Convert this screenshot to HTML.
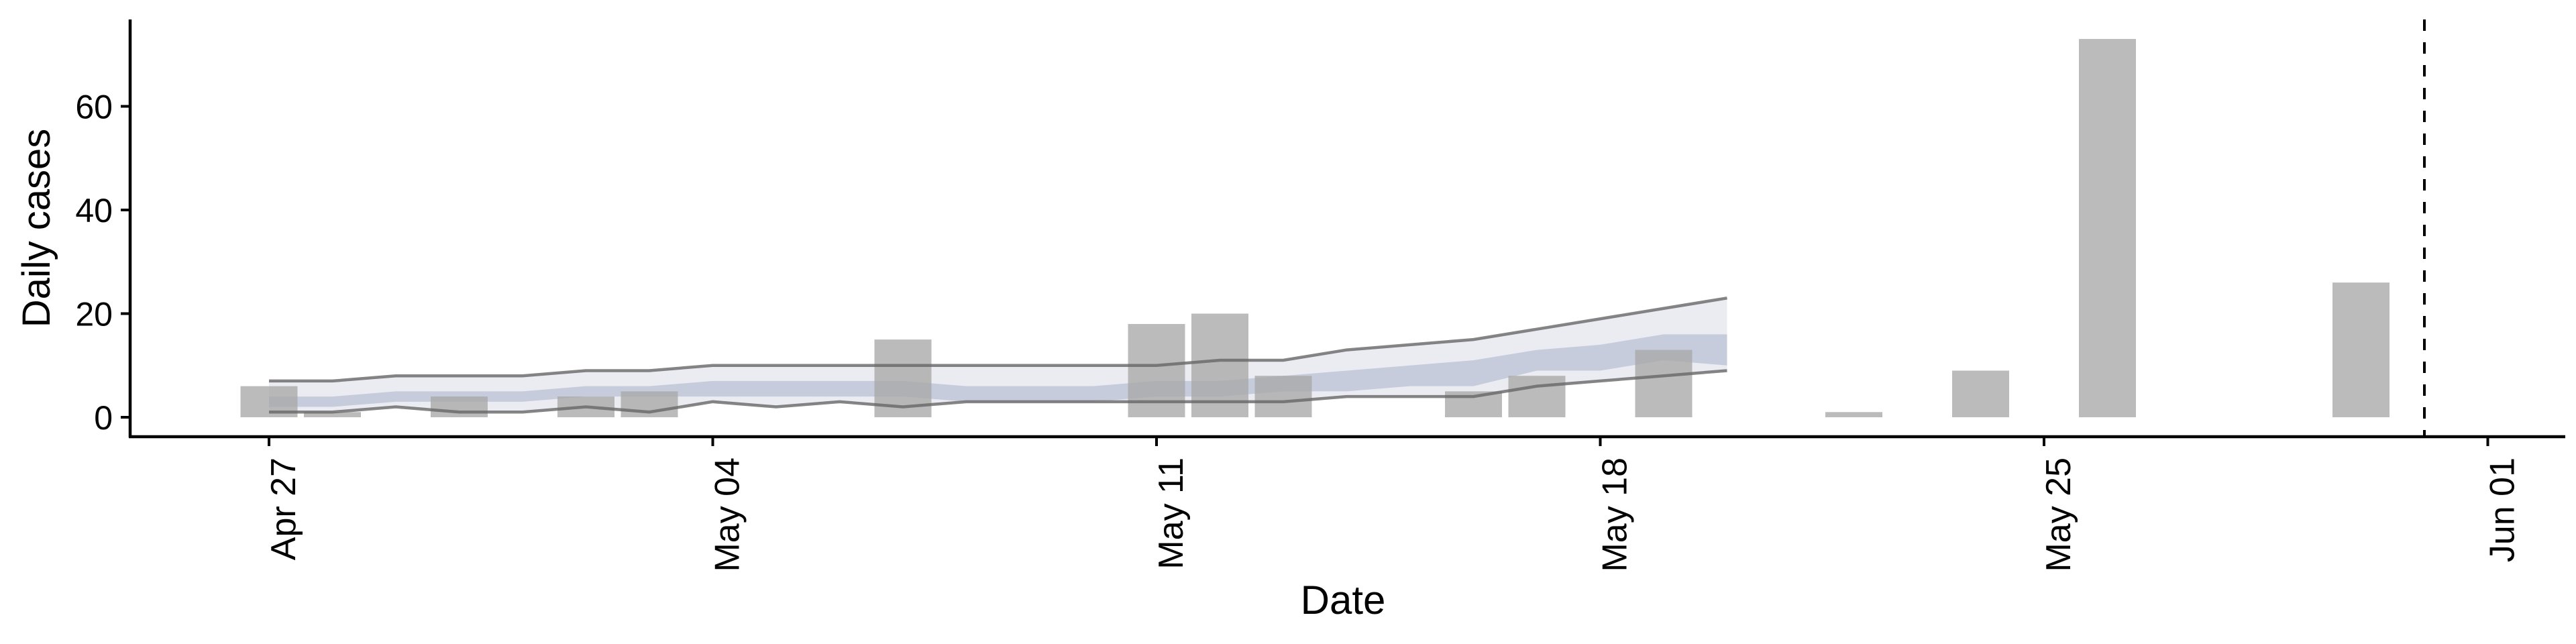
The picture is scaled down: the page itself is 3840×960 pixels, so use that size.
<!DOCTYPE html>
<html><head><meta charset="utf-8"><style>
html,body{margin:0;padding:0;background:#fff;}
svg{display:block;font-family:"Liberation Sans",Arial,sans-serif;}
</style></head><body>
<svg id="chart" width="3840" height="960" viewBox="0 0 3840 960">
<g id="ribbons"></g>
<g id="bars"></g>
<g id="lines"></g>
<g id="axes"></g>
</svg>
<script>
const dates = ["Apr 27","May 04","May 11","May 18","May 25","Jun 01"];
const tickDays = [0,7,14,21,28,35];
const yTicks = [0,20,40,60];
const barDays = [0,1,3,5,6,10,14,15,16,19,20,22,25,27,29,33];
const barValues = [6,1,4,4,5,15,18,20,8,5,8,13,1,9,73,26];
const bandDays = [0,1,2,3,4,5,6,7,8,9,10,11,12,13,14,15,16,17,18,19,20,21,22,23];
const outerLo = [1,1,2,1,1,2,1,3,2,3,2,3,3,3,3,3,3,4,4,4,6,7,8,9];
const outerHi = [7,7,8,8,8,9,9,10,10,10,10,10,10,10,10,11,11,13,14,15,17,19,21,23];
const innerLo = [2,2,3,3,3,4,4,4,4,4,4,3,3,3,4,4,5,5,6,6,9,9,11,10];
const innerHi = [4,4,5,5,5,6,6,7,7,7,7,6,6,6,7,7,8,9,10,11,13,14,16,16];
const cutoffDay = 34;

const NS="http://www.w3.org/2000/svg";
const x0=401, dayW=94.5, y0=622, unit=7.725;
const xs=d=>x0+d*dayW;
const ys=v=>y0-v*unit;
function mk(tag,attrs,parent){const e=document.createElementNS(NS,tag);for(const k in attrs)e.setAttribute(k,attrs[k]);parent.appendChild(e);return e;}
const rib=document.getElementById('ribbons'),bars=document.getElementById('bars'),lines=document.getElementById('lines'),axes=document.getElementById('axes');

function area(lo,hi,fill,name){
  let d="M"+bandDays.map((t,i)=>xs(t)+","+ys(hi[i])).join("L");
  d+="L"+bandDays.map((t,i)=>xs(t)+","+ys(lo[i])).reverse().join("L")+"Z";
  const p=mk('path',{d:d,fill:fill},rib);
  
  
}
area(outerLo,outerHi,"#ebecf2","outer-interval-ribbon");
area(innerLo,innerHi,"#c6ccdc","inner-interval-ribbon");

barDays.forEach((t,i)=>{
  const r=mk('rect',{x:xs(t)-42.5,y:ys(barValues[i]),width:85,height:barValues[i]*unit,fill:"#a8a8a8","fill-opacity":0.78},bars);
  
  
});

function line(vals,name){
  const p=mk('polyline',{points:bandDays.map((t,i)=>xs(t)+","+ys(vals[i])).join(" "),fill:"none",stroke:"#666","stroke-opacity":0.8,"stroke-width":4.5},lines);
  
  
}
line(outerHi,"upper-bound-line");
line(outerLo,"lower-bound-line");

// axes
const ya=mk('line',{x1:194,y1:29,x2:194,y2:652,stroke:"#000","stroke-width":4.5},axes);

const xa=mk('line',{x1:192,y1:651,x2:3824,y2:651,stroke:"#000","stroke-width":4.5},axes);

yTicks.forEach(v=>{
  const t=mk('line',{x1:180,y1:ys(v),x2:194,y2:ys(v),stroke:"#000","stroke-width":4},axes);
  
  const l=mk('text',{x:168,y:ys(v)+18,"text-anchor":"end","font-size":50,fill:"#000"},axes);
  l.textContent=v;
  
});
tickDays.forEach((d,i)=>{
  const t=mk('line',{x1:xs(d),y1:651,x2:xs(d),y2:665,stroke:"#000","stroke-width":4},axes);
  
  const l=mk('text',{x:0,y:0,"text-anchor":"end","font-size":52,fill:"#000",transform:"translate("+(xs(d)+39)+",682) rotate(-90)"},axes);
  l.textContent=dates[i];
  
});
const cut=mk('line',{x1:xs(cutoffDay),y1:29,x2:xs(cutoffDay),y2:651,stroke:"#000","stroke-width":4,"stroke-dasharray":"17,17"},axes);

const xt=mk('text',{x:2002,y:915,"text-anchor":"middle","font-size":60,fill:"#000"},axes);
xt.textContent="Date";

const yt=mk('text',{x:0,y:0,"text-anchor":"middle","font-size":58,fill:"#000",transform:"translate(74,340) rotate(-90)"},axes);
yt.textContent="Daily cases";

</script>
</body></html>
